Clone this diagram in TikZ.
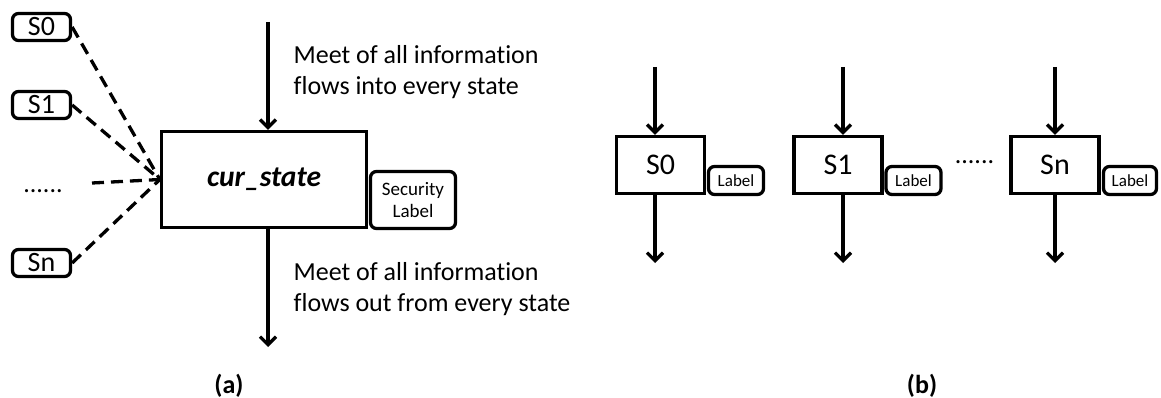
\documentclass[tikz,border=0pt]{standalone}
\usepackage{fontspec}
\setmainfont{Carlito}[Ligatures=NoCommon]
\usetikzlibrary{arrows.meta}
\begin{document}
\begin{tikzpicture}[x=1pt,y=-1pt, line width=3.3pt,
  box/.style={draw, rectangle, inner sep=0pt},
  rbox/.style={draw, rounded corners=6pt, inner sep=0pt},
  arr/.style={-{Straight Barb[length=8pt,width=16pt]}},
  dashline/.style={dash pattern=on 12pt off 7pt},
  big/.style={font=\fontsize{26}{31}\selectfont},
  sbig/.style={font=\fontsize{28}{32}\selectfont},
  bbig/.style={font=\fontsize{30}{34}\selectfont},
  small/.style={font=\fontsize{17}{20}\selectfont},
  caption/.style={font=\fontsize{26}{31}\selectfont\bfseries}]
\useasboundingbox (0,0) rectangle (1161,398);

% ---------- (a) ----------
\node[rbox, minimum width=58pt, minimum height=27pt, sbig] (a0) at (41.5,27) {S0};
\node[rbox, minimum width=58pt, minimum height=27pt, sbig] (a1) at (41.5,105) {S1};
\node[rbox, minimum width=58pt, minimum height=27pt, sbig] (an) at (41.5,263) {Sn};
\node[big, anchor=base, inner sep=0pt] (adots) at (43,193) {......};
\coordinate (ad) at (92,183);

\node[box, minimum width=205pt, minimum height=96pt,
      font=\fontsize{29.5}{34}\selectfont\bfseries\itshape] (cur) at (264,179.5) {cur\_state};
\node[rbox, minimum width=85pt, minimum height=57pt, align=center,
      font=\fontsize{19}{22}\selectfont] (sec) at (413,200) {Security\\Label};

\draw[dashline] (a0.east) -- (cur.west);
\draw[dashline] (a1.east) -- (cur.west);
\draw[dashline] (ad) -- (cur.west);
\draw[dashline] (an.east) -- (cur.west);

\coordinate (ain) at (268,22);
\coordinate (aout) at (268,347);
\draw[arr] (ain) -- (ain |- cur.north);
\draw[arr] (aout |- cur.south) -- (aout);

\node[big, align=left, anchor=west, inner sep=0pt] (tin) at (292,72)
  {Meet of all information\\flows into every state};
\node[big, align=left, anchor=west, inner sep=0pt] (tout) at (292,289)
  {Meet of all information\\flows out from every state};

\node[caption] (capa) at (229,386) {(a)};

% ---------- (b) ----------
\node[box, minimum width=88pt, minimum height=57pt, bbig] (b0) at (660.5,165) {S0};
\node[rbox, minimum width=55pt, minimum height=28pt, small] (l0) at (736,180.5) {Label};
\node[box, minimum width=88pt, minimum height=57pt, bbig] (b1) at (838,165) {S1};
\node[rbox, minimum width=55pt, minimum height=28pt, small] (l1) at (913.5,180.5) {Label};
\node[big, anchor=base, inner sep=0pt] (bdots) at (974.5,164) {......};
\node[box, minimum width=88pt, minimum height=57pt, bbig] (bn) at (1055,165) {Sn};
\node[rbox, minimum width=53pt, minimum height=28pt, small] (ln) at (1130,180.5) {Label};

\coordinate (b0in) at (655,67);
\coordinate (b0out) at (655,263);
\coordinate (b1in) at (843,67);
\coordinate (b1out) at (843,263);
\coordinate (bnin) at (1055,67);
\coordinate (bnout) at (1055,263);
\draw[arr] (b0in) -- (b0in |- b0.north);
\draw[arr] (b0out |- b0.south) -- (b0out);
\draw[arr] (b1in) -- (b1in |- b1.north);
\draw[arr] (b1out |- b1.south) -- (b1out);
\draw[arr] (bnin) -- (bnin |- bn.north);
\draw[arr] (bnout |- bn.south) -- (bnout);

\node[caption] (capb) at (922,386) {(b)};
\end{tikzpicture}
\end{document}
